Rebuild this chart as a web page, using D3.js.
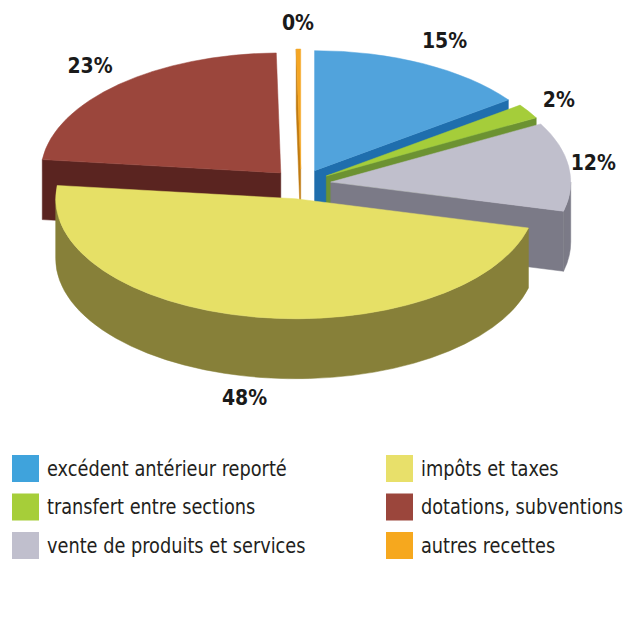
<!DOCTYPE html>
<html>
<head>
<meta charset="utf-8">
<script src="https://cdn.jsdelivr.net/npm/d3@7"></script>
<style>
    body { margin: 0; background: #fff; }
    svg { display: block; }
</style>
</head>
<body>
<div class="charts-div"></div>
<script>
const categories = [
    "excédent antérieur reporté",
    "transfert entre sections",
    "vente de produits et services",
    "impôts et taxes",
    "dotations, subventions",
    "autres recettes"
];
const shares = [15, 2, 12, 48, 23, 0.3]; // percent

const topColors = ["#51a3dc", "#a5cd3a", "#c0bfcc", "#e6e066", "#9b463c", "#f5a623"];
const sideColors = ["#1f6ead", "#6c9232", "#7b7a87", "#878039", "#5a2420", "#c07a10"];
const legendColors = ["#3fa3dc", "#a6ce39", "#c0bfcd", "#e8e06a", "#9b463c", "#f6a81e"];

const width = 628,
    height = 637;

const center = { x: 301, y: 184 },
    radius = 240,
    tilt = 0.5, // ry / rx
    depth = 60,
    explode = 30;

const svg = d3
    .select(".charts-div")
    .append("svg")
    .attr("width", width)
    .attr("height", height);

const pie = d3
    .pie()
    .sort(null)
    .value((d) => d);

const slices = pie(shares).map((d, i) => {
    const mid = (d.startAngle + d.endAngle) / 2;
    return {
        ...d,
        i,
        mid,
        cx: center.x + explode * Math.sin(mid),
        cy: center.y - explode * Math.cos(mid) * tilt
    };
});

const rim = (s, a, z = 0, r = radius) => [s.cx + r * Math.sin(a), s.cy - r * Math.cos(a) * tilt + z];

const arcTo = (p, a0, a1, sweep) => {
    const large = Math.abs(a1 - a0) > Math.PI ? 1 : 0;
    return `A${radius},${radius * tilt} 0 ${large} ${sweep} ${p[0]},${p[1]}`;
};

const topPath = (s) => {
    const p0 = rim(s, s.startAngle),
        p1 = rim(s, s.endAngle);
    return `M${s.cx},${s.cy}L${p0}` + arcTo(p1, s.startAngle, s.endAngle, 1) + "Z";
};

// outer wall is only seen on the front half (between 3 and 9 o'clock)
const wallPath = (s) => {
    const a0 = Math.max(s.startAngle, Math.PI / 2),
        a1 = Math.min(s.endAngle, (3 * Math.PI) / 2);
    if (a0 >= a1) return null;
    return (
        `M${rim(s, a0)}` +
        arcTo(rim(s, a1), a0, a1, 1) +
        `L${rim(s, a1, depth)}` +
        arcTo(rim(s, a0, depth), a0, a1, 0) +
        "Z"
    );
};

const cutPath = (s, a) => {
    const p = rim(s, a),
        q = rim(s, a, depth);
    return `M${s.cx},${s.cy}L${p}L${q}L${s.cx},${s.cy + depth}Z`;
};

// back slices first
const order = slices.slice().sort((a, b) => Math.cos(b.mid) - Math.cos(a.mid));

const g = svg.selectAll("g.slice").data(order).enter().append("g").attr("class", "slice");

g.each(function (s) {
    const el = d3.select(this);
    const faces = [];
    const w = wallPath(s);
    if (w) faces.push(w);
    if (Math.sin(s.startAngle) < -1e-6) faces.push(cutPath(s, s.startAngle));
    if (Math.sin(s.endAngle) > 1e-6) faces.push(cutPath(s, s.endAngle));

    el.selectAll("path.side")
        .data(faces)
        .enter()
        .append("path")
        .attr("class", "side")
        .attr("d", (d) => d)
        .attr("fill", sideColors[s.i])
        .attr("stroke", sideColors[s.i])
        .attr("stroke-width", 0.5);

    el.append("path")
        .attr("class", "top")
        .attr("d", topPath(s))
        .attr("fill", topColors[s.i])
        .attr("stroke", topColors[s.i])
        .attr("stroke-width", 0.5);
});

// percentage labels, side ones pulled in a little
svg.selectAll("text.pct")
    .data(slices)
    .enter()
    .append("text")
    .attr("class", "pct")
    .each(function (s) {
        const f = 1.2 - 0.1 * Math.pow(Math.sin(s.mid), 4);
        const p = rim(s, s.mid, Math.cos(s.mid) < 0 ? depth : 0, radius * f);
        d3.select(this).attr("x", p[0]).attr("y", p[1] - 2);
    })
    .attr("text-anchor", "middle")
    .attr("dominant-baseline", "central")
    .attr("font-family", "'DejaVu Sans Condensed', 'DejaVu Sans', sans-serif")
    .attr("font-weight", "bold")
    .attr("font-size", 21)
    .attr("fill", "#1a1a1a")
    .text((s) => Math.round(s.data) + "%");

// legend: two columns of three
const legendCols = [12, 386],
    legendTop = 455,
    rowStep = 38.5,
    box = 27;

const legend = svg
    .selectAll("g.legend")
    .data(categories)
    .enter()
    .append("g")
    .attr("class", "legend")
    .attr("transform", (d, i) => `translate(${legendCols[Math.floor(i / 3)]},${legendTop + (i % 3) * rowStep})`);

legend
    .append("rect")
    .attr("width", box)
    .attr("height", box)
    .attr("fill", (d, i) => legendColors[i]);

// the original face is narrower than DejaVu Condensed, so squeeze it a bit
legend
    .append("text")
    .attr("transform", `translate(${box + 8},${box / 2}) scale(0.94,1)`)
    .attr("dominant-baseline", "central")
    .attr("font-family", "'DejaVu Sans Condensed', 'DejaVu Sans', sans-serif")
    .attr("font-size", 21)
    .attr("fill", "#231f20")
    .text((d) => d);
</script>
</body>
</html>
